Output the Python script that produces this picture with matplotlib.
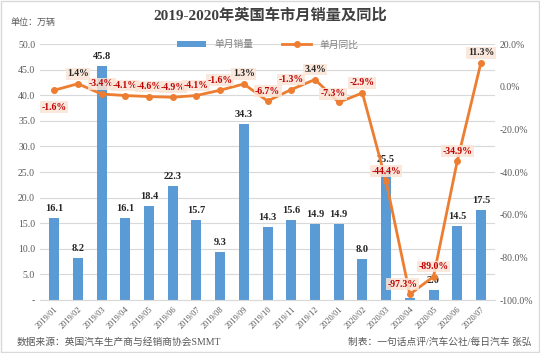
import numpy as np
import matplotlib
matplotlib.use("Agg")
import matplotlib.pyplot as plt

plt.rcParams['font.family'] = ['Liberation Serif', 'Noto Sans CJK SC']
plt.rcParams['axes.unicode_minus'] = False

months = ["2019/01", "2019/02", "2019/03", "2019/04", "2019/05", "2019/06", "2019/07",
          "2019/08", "2019/09", "2019/10", "2019/11", "2019/12", "2020/01", "2020/02",
          "2020/03", "2020/04", "2020/05", "2020/06", "2020/07"]
sales = [16.1, 8.2, 45.8, 16.1, 18.4, 22.3, 15.7, 9.3, 34.3, 14.3, 15.6, 14.9, 14.9, 8.0,
         25.5, 0.4, 2.0, 14.5, 17.5]
yoy = [-1.6, 1.4, -3.4, -4.1, -4.6, -4.9, -4.1, -1.6, 1.3, -6.7, -1.3, 3.4, -7.3, -2.9,
       -44.4, -97.3, -89.0, -34.9, 11.3]
sales_labels = ["16.1", "8.2", "45.8", "16.1", "18.4", "22.3", "15.7", "9.3", "34.3", "14.3",
                "15.6", "14.9", "14.9", "8.0", "25.5", "", "2.0", "14.5", "17.5"]

bar_color = "#5B9BD5"
line_color = "#ED7D31"

fig = plt.figure(figsize=(5.4, 3.53), dpi=100)
ax = fig.add_axes([0.074, 0.150, 0.843, 0.725])
x = np.arange(len(months))

ax.bar(x, sales, width=0.42, color=bar_color, label="单月销量", zorder=2)
ax.set_ylim(0, 50)
ax.set_yticks(np.arange(0, 51, 5))
ax.set_yticklabels(["-"] + ["%.1f" % v for v in np.arange(5, 51, 5)])
ax.set_xlim(-0.6, len(months) - 0.4)
ax.set_xticks(x)
ax.set_xticklabels(months, rotation=45, ha="right", rotation_mode="anchor")
ax.grid(axis="y", color="#d9d9d9", linewidth=0.8, zorder=0)
for s in ["top", "right", "left"]:
    ax.spines[s].set_visible(False)
ax.spines["bottom"].set_color("#d9d9d9")
ax.tick_params(axis="both", length=0, labelsize=7, colors="#595959")
ax.tick_params(axis="x", labelsize=6, pad=4)

for xi, v, lab in zip(x, sales, sales_labels):
    if lab:
        ax.text(xi, v + 1.0, lab, ha="center", va="bottom", fontsize=7.5,
                fontweight="bold", color="#262626", zorder=5)

ax2 = ax.twinx()
ax2.plot(x, yoy, color=line_color, linewidth=2, marker="o", markersize=4,
         label="单月同比", zorder=4)
ax2.set_ylim(-100, 20)
ax2.set_yticks(np.arange(-100, 21, 20))
ax2.set_yticklabels(["%.1f%%" % v for v in np.arange(-100, 21, 20)])
for s in ax2.spines.values():
    s.set_visible(False)
ax2.tick_params(axis="y", length=0, labelsize=7, colors="#595959")

offsets = {0: (0, -9), 15: (-5, 4), 12: (-4, 3)}
for i, (xi, v) in enumerate(zip(x, yoy)):
    dx, dy = offsets.get(i, (0, 4))
    col = "#262626" if v > 0 else "#C00000"
    ax2.annotate("%.1f%%" % v, (xi, v), xytext=(dx, dy), textcoords="offset points",
                 ha="center", va="bottom" if dy > 0 else "top", fontsize=7,
                 fontweight="bold", color=col, zorder=6,
                 bbox=dict(boxstyle="square,pad=0.15", fc="#FBE5D6", ec="none", alpha=0.85))

h1, l1 = ax.get_legend_handles_labels()
h2, l2 = ax2.get_legend_handles_labels()
ax.legend(h1 + h2, l1 + l2, loc="upper center", bbox_to_anchor=(0.5, 1.05), ncol=2,
          frameon=False, fontsize=7, labelcolor="#7f7f7f", handlelength=3,
          columnspacing=3)

fig.text(0.5, 0.955, "2019-2020年英国车市月销量及同比", ha="center", va="center",
         fontsize=11, fontweight="bold", color="#404040")
fig.text(0.02, 0.935, "单位：万辆", ha="left", va="center", fontsize=6.5, color="#595959")
fig.text(0.03, 0.03, "数据来源：英国汽车生产商与经销商协会SMMT", ha="left", va="center",
         fontsize=7, color="#595959")
fig.text(0.985, 0.03, "制表：一句话点评/汽车公社/每日汽车 张弘", ha="right", va="center",
         fontsize=7, color="#595959")

fig.patches.append(plt.Rectangle((0.002, 0.003), 0.996, 0.994, transform=fig.transFigure,
                                 fill=False, ec="#d9d9d9", lw=1))

fig.savefig("out.png", dpi=100)
